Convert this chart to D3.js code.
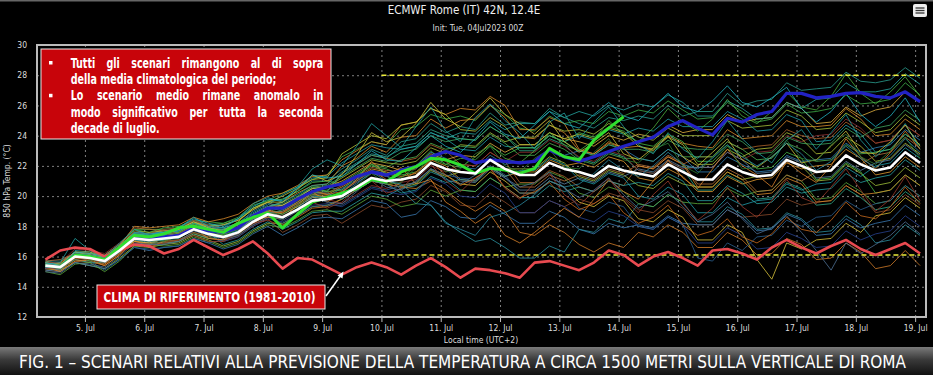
<!DOCTYPE html>
<html>
<head>
<meta charset="utf-8">
<script src="https://cdn.jsdelivr.net/npm/d3@7"></script>
<style>
body { margin: 0; background: #000; }
svg { display: block; }
text { font-family: "Liberation Sans Narrow", "DejaVu Sans Condensed", "Roboto", sans-serif; }
</style>
</head>
<body>
<svg id="chart" width="933" height="375"></svg>
<script>
// ---- data ----
// hours after init (04Jul2023 00Z), one value every 6 h up to +360 h
var hours = d3.range(6, 361, 6);
var tickHours = [22, 46, 70, 94, 118, 142, 166, 190, 214, 238, 262, 286, 310, 334, 358];
var tickLabels = ["5. Jul", "6. Jul", "7. Jul", "8. Jul", "9. Jul", "10. Jul", "11. Jul", "12. Jul",
                  "13. Jul", "14. Jul", "15. Jul", "16. Jul", "17. Jul", "18. Jul", "19. Jul"];
var yTicks = [12, 14, 16, 18, 20, 22, 24, 26, 28, 30];

var ensMean = [15.4,15.3,16.0,15.9, 15.7,16.4,17.2,17.1, 17.2,17.3,17.8,17.5, 17.3,17.6,18.3,18.8,
  18.6,19.1,19.7,19.8, 20.0,20.6,21.2,21.0, 21.1,21.3,22.2,21.8, 21.6,21.5,22.4,21.8,
  21.4,21.4,22.2,21.8, 21.6,21.3,22.0,21.7, 21.5,21.3,22.1,21.6, 21.1,21.1,22.1,21.6,
  21.3,21.4,22.4,22.0, 21.6,21.7,22.7,22.1, 21.7,21.9,22.9,22.2];

var climate = [15.8,16.4,16.6,16.5, 16.0,16.4,16.8,16.7, 16.2,16.5,17.1,16.6, 16.1,16.5,17.0,16.2,
  15.2,15.9,15.8,15.3, 14.8,15.3,15.6,15.3, 14.8,15.4,15.9,15.3, 14.6,15.2,15.1,14.9,
  14.6,15.6,15.7,15.4, 15.1,15.6,16.4,16.1, 15.4,16.0,16.3,15.9, 15.4,16.4,16.5,16.2,
  15.8,16.6,17.1,16.6, 16.2,16.7,17.1,16.5, 16.1,16.5,16.9,16.2];

var control = [15.4,15.3,16.1,16.0, 15.8,16.5,17.3,17.2, 17.3,17.4,17.9,17.7, 17.6,17.9,18.7,19.2,
  19.2,19.8,20.3,20.6, 20.8,21.3,21.6,21.4, 21.7,21.95,22.6,22.95, 22.7,22.2,22.4,22.3,
  22.2,22.3,23.05,22.6, 22.3,22.6,22.95,23.3, 23.6,23.9,24.6,25.0, 24.5,24.05,25.15,24.9,
  25.4,25.6,26.8,26.8, 26.5,26.6,26.8,26.85, 26.6,26.5,26.9,26.25];

// deterministic run, up to +240 h
var hres = [15.4,15.3,16.1,16.0, 15.8,16.6,17.4,17.3, 17.5,17.9,18.0,17.8, 17.6,18.2,18.6,18.9,
  17.9,18.8,19.6,19.9, 20.2,20.5,21.1,20.95, 21.6,21.95,22.5,22.4, 22.06,21.5,21.84,21.73,
  21.5,21.84,23.16,22.6, 22.4,23.7,24.5,25.25];

var members = [
  [15.6,15.5,16.3,16.1, 16.0,16.7,17.6,17.5, 17.7,17.8,18.4,18.0, 18.1,18.4,19.2,19.6, 19.8,20.3,21.0,21.0, 21.8,22.4,23.1,22.7, 23.6,23.8,24.8,24.2, 24.6,24.4,25.5,24.7, 24.9,24.8,25.8,25.2, 24.8,24.5,25.2,25.0, 25.3,25.1,26.0,25.3, 25.6,25.6,26.8,26.0, 26.3,26.4,27.5,27.0, 27.1,27.2,28.2,27.6, 27.5,27.7,28.5,27.8],
  [15.5,15.4,16.1,16.2, 16.1,16.8,17.8,17.6, 17.9,18.0,18.4,18.3, 18.2,18.6,19.4,19.7, 20.2,20.6,21.1,21.4, 22.6,23.1,23.6,23.4, 24.4,24.6,25.4,25.1, 25.3,25.0,26.0,25.4, 24.5,24.3,25.3,24.8, 25.0,24.8,25.6,25.3, 25.7,25.5,26.3,25.7, 25.1,25.2,26.2,25.6, 24.9,25.1,26.1,25.5, 25.6,25.8,26.7,26.1, 26.2,26.4,27.5,26.7],
  [15.2,15.1,15.8,15.7, 15.4,16.1,17.0,16.8, 17.2,17.3,17.9,17.4, 17.8,18.1,18.8,19.3, 19.6,20.2,20.7,20.8, 22.0,22.5,23.3,22.9, 23.9,24.0,25.1,24.5, 25.0,25.1,26.0,25.2, 23.9,23.8,24.7,24.2, 23.0,22.8,23.6,23.2, 23.3,23.0,24.0,23.5, 23.3,23.2,24.4,23.8, 23.9,24.0,25.0,24.6, 24.6,24.7,25.8,25.1, 24.0,24.1,25.1,24.4],
  [15.7,15.5,16.3,16.1, 15.9,16.6,17.4,17.2, 17.0,17.1,17.6,17.3, 17.6,17.9,18.6,19.1, 19.4,19.9,20.5,20.6, 21.2,21.8,22.4,22.2, 22.1,22.3,23.2,22.8, 23.4,23.3,24.2,23.6, 23.9,23.9,24.7,24.3, 24.4,24.1,24.8,24.5, 23.9,23.7,24.5,24.0, 24.0,24.0,25.0,24.5, 24.6,24.7,25.7,25.3, 24.4,24.5,25.5,24.9, 24.2,24.4,25.4,24.7],
  [15.5,15.3,16.4,16.3, 15.7,16.4,17.6,17.5, 17.6,17.7,18.2,18.1, 17.9,18.2,18.9,19.4, 20.1,20.6,21.2,21.3, 22.2,22.8,23.4,23.2, 23.1,23.3,24.2,23.8, 23.1,23.0,23.9,23.3, 23.2,23.2,24.0,23.6, 24.0,23.7,24.4,24.1, 24.5,24.3,25.1,24.6, 24.6,24.6,25.6,25.1, 24.3,24.4,25.4,25.0, 23.6,23.7,24.7,24.1, 22.9,23.1,24.1,23.4],
  [15.1,15.0,15.7,15.6, 15.5,16.2,17.5,17.4, 17.5,17.6,18.1,17.8, 18.1,18.4,19.1,19.6, 19.1,19.6,20.2,20.3, 21.5,22.1,22.7,22.5, 22.3,22.5,23.4,23.0, 22.1,22.0,22.9,22.3, 20.9,20.9,21.7,21.3, 20.6,20.3,21.0,20.7, 22.0,21.8,22.6,22.1, 22.6,22.6,23.6,23.1, 23.3,23.4,24.4,24.0, 23.8,23.9,24.9,24.3, 23.5,23.7,24.7,24.0],
  [15.4,15.3,16.0,16.0, 15.9,16.6,17.4,17.3, 17.4,17.5,18.0,17.7, 17.5,17.8,18.5,19.0, 19.2,19.7,20.3,20.4, 20.9,21.5,22.1,21.9, 22.4,22.6,23.5,23.1, 23.3,23.2,24.1,23.5, 22.7,22.7,23.5,23.1, 22.4,22.1,22.8,22.5, 22.5,22.3,23.1,22.6, 22.6,22.6,23.6,23.1, 22.4,22.5,23.5,23.1, 22.3,22.4,23.4,22.8, 22.9,23.1,24.1,23.4],
  [15.3,15.2,16.0,15.9, 15.8,16.5,17.6,17.5, 17.6,17.7,18.2,17.9, 17.6,17.9,18.6,19.1, 18.8,19.3,19.9,20.0, 20.5,21.1,21.7,21.5, 21.8,22.0,22.9,22.5, 21.9,21.8,22.7,22.1, 22.3,22.3,23.1,22.7, 23.0,22.7,23.4,23.1, 22.5,22.3,23.1,22.6, 21.6,21.6,22.6,22.1, 21.6,21.7,22.7,22.3, 22.4,22.5,23.5,22.9, 23.2,23.4,24.4,23.7],
  [15.6,15.5,16.2,16.1, 15.6,16.3,17.0,16.9, 16.9,17.0,17.5,17.2, 17.1,17.4,18.1,18.6, 18.9,19.4,20.0,20.1, 20.6,21.2,21.8,21.6, 21.3,21.5,22.4,22.0, 21.1,21.0,21.9,21.3, 21.6,21.6,22.4,22.0, 22.2,21.9,22.6,22.3, 21.2,21.0,21.8,21.3, 20.3,20.3,21.3,20.8, 21.1,21.2,22.2,21.8, 22.0,22.1,23.1,22.5, 21.4,21.6,22.6,21.9],
  [15.2,15.1,15.6,15.4, 15.2,15.9,16.7,16.6, 16.8,16.9,17.4,17.1, 16.7,17.0,17.7,18.2, 18.2,18.7,19.3,19.4, 19.8,20.4,21.0,20.8, 20.6,20.8,21.7,21.3, 21.6,21.5,22.4,21.8, 21.8,21.8,22.6,22.2, 21.3,21.0,21.7,21.4, 20.7,20.5,21.3,20.8, 20.6,20.6,21.6,21.1, 21.3,21.4,22.4,22.0, 21.0,21.1,22.1,21.5, 20.7,20.9,21.9,21.2],
  [15.5,15.4,16.1,15.9, 15.9,16.6,17.2,17.0, 17.1,17.2,17.8,17.6, 16.8,17.1,17.8,18.3, 17.8,18.3,18.9,19.0, 19.0,19.6,20.2,20.0, 20.5,20.7,21.6,21.2, 20.4,20.3,21.2,20.6, 19.9,19.9,20.7,20.3, 20.6,20.3,21.0,20.7, 20.9,20.7,21.5,21.0, 19.7,19.7,20.7,20.2, 19.5,19.6,20.6,20.2, 20.4,20.5,21.5,20.9, 21.2,21.4,22.4,21.7],
  [15.3,15.3,15.8,15.6, 15.7,16.4,17.0,16.8, 17.0,17.1,17.6,17.3, 17.0,17.3,18.0,18.5, 17.6,18.1,18.7,18.8, 18.2,18.8,19.4,19.2, 19.6,19.8,20.7,20.3, 19.4,19.3,20.2,19.6, 18.9,18.9,19.7,19.3, 19.8,19.5,20.2,19.9, 19.1,18.9,19.7,19.2, 18.1,18.1,19.1,18.6, 18.7,18.8,19.8,19.4, 19.6,19.7,20.7,20.1, 18.9,19.1,20.1,19.4],
  [15.1,15.0,15.6,15.4, 15.2,15.8,16.6,16.4, 16.6,16.7,17.2,16.9, 16.5,16.8,17.5,18.0, 17.4,17.9,18.5,18.6, 18.5,19.1,19.7,19.5, 18.6,18.8,19.7,19.3, 18.6,18.5,19.4,18.8, 18.2,18.2,19.0,18.6, 17.8,17.5,18.2,17.9, 18.1,17.9,18.7,18.2, 18.1,18.1,19.1,18.6, 17.7,17.8,18.8,18.4, 17.4,17.5,18.5,17.9, 18.2,18.4,19.4,18.7],
  [15.4,15.4,16.2,16.1, 15.9,16.6,17.5,17.5, 17.6,17.7,18.2,17.9, 17.9,18.2,19.0,19.5, 19.4,19.9,20.5,20.6, 20.4,21.0,21.6,21.4, 20.4,19.5,19.4,18.3, 17.6,17.0,17.2,16.6, 15.9,15.9,16.7,16.3, 17.8,17.6,18.5,18.2, 19.5,19.3,20.1,19.6, 18.3,18.3,19.3,18.8, 17.8,17.9,18.9,18.5, 17.6,17.7,18.7,18.1, 16.9,17.1,18.1,17.4],
  [15.3,15.3,16.2,15.9, 15.5,16.3,17.4,17.2, 17.5,17.6,18.1,17.6, 17.2,17.5,18.2,18.7, 18.1,18.6,19.2,19.3, 19.8,20.4,21.0,20.8, 20.6,20.5,21.0,20.4, 19.6,19.0,19.6,19.0, 17.6,17.4,18.1,17.6, 16.8,16.3,16.9,16.6, 17.6,17.3,18.1,17.6, 16.6,16.6,17.6,17.1, 16.1,16.2,17.2,16.8, 15.8,15.9,16.9,16.3, 15.2,15.4,16.4,15.4],
  [15.6,15.4,16.0,16.0, 15.8,16.5,17.2,17.2, 17.3,17.4,17.8,17.6, 17.0,17.3,18.0,18.5, 18.3,18.8,19.4,19.5, 19.3,19.9,20.5,20.3, 20.1,20.3,21.2,20.8, 20.0,19.9,20.8,20.2, 18.9,18.9,19.7,19.3, 18.6,18.3,19.0,18.7, 18.0,17.8,18.6,18.1, 16.9,16.9,17.9,17.4, 16.5,16.6,17.6,17.2, 16.6,16.7,17.7,17.1, 17.5,17.7,18.7,18.0],
  [15.4,15.3,16.1,15.9, 15.6,16.2,17.3,17.2, 17.4,17.5,18.0,17.7, 17.6,17.9,18.6,19.1, 18.8,19.3,19.9,20.0, 20.0,20.6,21.2,21.0, 20.7,20.9,21.8,21.4, 20.8,20.7,21.6,21.0, 20.2,20.2,21.0,20.6, 19.6,19.3,20.0,19.7, 18.5,18.3,19.1,18.6, 17.1,17.1,18.1,17.6, 15.8,14.5,16.9,16.5, 17.1,17.2,18.2,17.6, 18.7,18.9,19.9,19.2],
  [15.5,15.4,16.1,16.0, 16.0,16.7,17.8,17.8, 17.8,17.9,18.4,18.1, 18.2,18.5,19.2,19.7, 19.8,20.3,20.9,21.0, 20.8,21.4,22.0,21.8, 21.4,21.6,22.5,22.1, 22.5,22.4,23.3,22.7, 23.2,23.2,24.0,23.6, 24.2,23.9,24.6,24.3, 23.5,23.3,24.1,23.6, 22.3,22.3,23.3,22.8, 21.8,21.9,22.9,22.5, 21.1,21.2,22.2,21.6, 20.2,20.4,21.4,20.7],
  [15.2,15.2,15.8,15.6, 15.6,16.3,17.1,16.9, 16.9,17.0,17.5,17.2, 17.3,17.6,18.3,18.8, 19.1,19.6,20.2,20.3, 21.5,22.1,22.7,22.5, 23.3,23.5,24.4,24.0, 23.8,23.7,24.6,24.0, 23.0,23.0,23.8,23.4, 22.5,22.2,22.9,22.6, 21.7,21.5,22.3,21.8, 20.4,20.4,21.4,20.9, 19.8,19.9,20.9,20.5, 19.4,19.5,20.5,19.9, 19.1,19.3,20.3,19.6],
  [15.4,15.3,16.0,15.9, 15.7,16.4,17.0,16.9, 17.2,17.3,17.8,17.5, 17.8,18.1,18.8,19.3, 19.4,19.9,20.5,20.6, 21.0,21.6,22.2,22.0, 21.7,21.9,22.8,22.4, 22.7,22.6,23.5,22.9, 23.4,23.4,24.2,23.8, 23.6,23.3,24.0,23.7, 24.1,23.9,24.7,24.2, 24.4,24.4,25.4,24.9, 25.1,25.2,26.2,25.8, 24.8,24.9,25.9,25.3, 25.7,25.9,26.9,26.2],
  [15.6,15.6,16.5,16.4, 16.2,16.9,17.6,17.5, 17.8,17.9,18.4,18.1, 17.7,18.0,18.7,19.2, 18.6,19.1,19.7,19.8, 19.5,20.1,20.7,20.5, 20.9,21.1,22.0,21.6, 22.1,22.0,22.9,22.3, 22.9,22.9,23.7,23.3, 22.6,22.3,23.0,22.7, 21.7,21.5,22.3,21.8, 21.9,21.9,22.9,22.4, 22.9,23.0,24.0,23.6, 24.0,24.1,25.1,24.5, 23.5,23.7,24.7,24.0],
  [15.0,14.8,15.5,15.6, 15.0,15.7,16.7,16.8, 16.7,16.8,17.3,17.0, 16.6,16.9,17.6,18.1, 17.9,18.4,19.0,19.1, 18.8,19.4,20.0,19.8, 19.3,19.5,20.4,20.0, 20.4,20.3,21.2,20.6, 20.8,20.8,21.6,21.2, 20.2,19.9,20.6,20.3, 19.5,19.3,20.1,19.6, 19.5,19.5,20.5,20.0, 20.3,20.4,21.4,21.0, 19.8,19.9,20.9,20.3, 19.5,19.7,20.7,20.0],
  [15.7,15.7,16.2,15.9, 16.1,16.8,17.4,17.1, 17.6,17.7,18.2,17.9, 17.4,17.7,18.4,18.9, 19.0,19.5,20.1,20.2, 19.8,20.4,21.0,20.8, 20.2,20.4,21.3,20.9, 21.1,21.0,21.9,21.3, 21.7,21.7,22.5,22.1, 21.1,20.8,21.5,21.2, 20.0,19.8,20.6,20.1, 18.9,18.9,19.9,19.4, 19.7,19.8,20.8,20.4, 20.8,20.9,21.9,21.3, 22.0,22.2,23.2,22.5],
  [15.4,15.6,16.3,16.2, 16.0,16.7,18.0,17.9, 18.0,18.1,18.6,18.3, 18.5,18.8,19.5,20.0, 20.2,20.7,21.3,21.4, 22.4,23.0,23.6,23.4, 24.7,24.9,25.8,25.4, 25.8,25.7,26.6,26.0, 24.4,24.4,25.2,24.8, 23.1,22.8,23.5,23.2, 22.0,21.8,22.6,22.1, 20.6,20.6,21.6,21.1, 20.1,20.2,21.2,20.8, 19.6,19.7,20.7,20.1, 20.2,20.4,21.4,20.7],
  [15.3,15.1,16.0,16.1, 15.7,16.4,17.4,17.3, 17.3,17.4,17.9,17.6, 17.5,17.8,18.5,19.0, 18.6,19.1,19.7,19.8, 20.3,20.9,21.5,21.3, 21.1,21.3,22.2,21.8, 21.0,20.9,21.8,21.2, 20.4,20.4,21.2,20.8, 21.2,20.9,21.6,21.3, 21.8,21.6,22.4,21.9, 21.9,21.9,22.9,22.4, 21.5,21.6,22.6,22.2, 21.2,21.3,22.3,21.7, 22.2,22.4,23.4,22.7],
  [15.6,15.4,16.3,16.3, 16.0,16.6,17.7,17.6, 17.7,17.8,18.3,18.0, 18.1,18.4,19.1,19.6, 20.0,20.5,21.1,21.2, 22.8,23.4,24.0,23.8, 24.7,24.9,25.8,25.4, 24.4,24.3,25.2,24.6, 23.4,23.4,24.2,23.8, 24.1,23.8,24.5,24.2, 23.3,23.1,23.9,23.4, 22.1,22.1,23.1,22.6, 23.1,23.2,24.2,23.8, 22.8,22.9,23.9,23.3, 22.3,22.5,23.5,22.8],
  [15.5,15.4,16.2,16.1, 15.9,16.7,17.5,17.4, 17.5,17.6,18.1,17.8, 17.8,18.1,18.8,19.3, 19.5,20.0,20.6,20.7, 21.3,21.9,22.5,22.3, 22.9,23.1,24.0,23.6, 23.8,23.7,24.6,24.0, 23.2,23.2,24.0,23.6, 23.0,22.7,23.4,23.1, 23.1,22.9,23.7,23.2, 23.1,23.1,24.1,23.6, 22.8,22.9,23.9,23.5, 23.4,23.5,24.5,23.9, 24.5,24.7,25.7,25.0],
  [15.2,15.3,16.0,15.7, 15.1,15.8,16.6,16.5, 16.6,16.7,17.2,16.9, 17.1,17.4,18.1,18.6, 18.2,18.7,19.3,19.4, 19.4,20.0,20.6,20.4, 20.7,20.9,21.8,21.4, 21.2,21.1,22.0,21.4, 20.2,20.2,21.0,20.6, 19.2,18.9,19.6,19.3, 18.0,17.8,18.6,18.1, 15.9,15.7,16.9,16.4, 17.3,17.4,18.4,18.0, 18.6,18.7,19.7,19.1, 19.5,19.7,20.7,20.0],
  [15.7,15.8,16.2,15.9, 16.1,16.8,17.9,17.8, 17.7,17.8,18.3,18.0, 17.3,17.6,18.3,18.8, 19.0,19.5,20.1,20.2, 20.7,21.3,21.9,21.7, 21.6,21.8,22.7,22.3, 21.6,21.5,22.4,21.8, 20.6,20.6,21.4,21.0, 21.4,21.1,21.8,21.5, 22.1,21.9,22.7,22.2, 20.8,20.8,21.8,21.3, 20.3,20.4,21.4,21.0, 21.6,21.7,22.7,22.1, 22.7,22.9,23.9,23.2],
  [15.3,15.2,15.9,15.9, 15.8,16.5,17.6,17.5, 17.6,17.7,18.2,17.9, 17.8,18.1,18.8,19.3, 19.6,20.1,20.7,20.8, 21.6,22.2,22.8,22.6, 23.1,23.3,24.2,23.8, 24.2,24.1,25.0,24.4, 24.8,24.8,25.6,25.2, 25.6,25.3,26.0,25.7, 26.1,25.9,26.7,26.2, 25.3,25.3,26.3,25.8, 25.1,25.2,26.2,25.8, 26.4,26.5,27.5,26.9, 26.9,27.1,28.1,27.4],
  [15.5,15.6,17.2,16.4, 15.9,16.9,17.8,17.4, 17.4,17.9,18.6,18.0, 17.9,18.5,19.5,19.9, 19.6,20.6,21.8,22.4, 22.0,23.3,24.8,24.0, 23.2,24.6,25.9,24.3, 23.6,25.2,26.1,25.0, 24.2,23.1,24.9,25.5, 23.8,24.9,25.9,24.6, 23.4,22.8,24.2,23.1, 22.5,23.6,25.0,23.8, 22.9,22.2,23.7,24.4, 23.1,24.2,25.4,23.7, 22.6,23.5,24.8,23.1],
  [15.3,15.0,15.7,15.8, 15.4,16.1,17.1,16.6, 17.0,17.4,17.9,17.2, 17.1,17.7,18.5,18.6, 18.5,19.4,20.3,19.6, 20.2,21.1,22.3,21.4, 21.9,20.8,21.1,19.6, 19.0,18.2,18.8,17.4, 16.9,17.6,18.4,19.2, 18.6,19.8,21.1,20.3, 19.8,21.0,22.4,21.2, 20.5,21.8,23.1,22.0, 21.4,20.6,22.3,21.5, 20.9,22.0,23.8,22.6, 21.8,22.9,24.3,23.1],
  [15.4,15.5,16.1,15.7, 15.8,16.5,17.5,17.0, 17.1,17.6,18.2,17.8, 17.4,18.0,18.8,19.1, 19.3,19.9,20.6,20.3, 20.4,21.3,22.1,21.5, 21.2,22.0,23.0,22.1, 21.9,22.6,23.4,22.5, 22.2,23.0,24.2,23.4, 23.0,23.7,25.0,24.1, 23.6,24.5,25.8,24.9, 24.3,25.1,26.4,25.3, 24.8,25.6,26.9,25.9, 25.7,26.6,28.1,26.8, 26.1,26.9,27.9,26.6],
  [15.2,15.2,15.9,15.8, 15.6,16.2,16.9,16.7, 16.9,17.1,17.4,17.0, 17.0,17.6,18.2,18.4, 18.0,18.9,19.6,19.2, 19.6,20.5,21.0,20.2, 20.5,21.4,22.1,21.0, 20.3,21.2,21.9,20.5, 19.8,20.9,21.5,20.1, 19.4,20.3,21.2,19.8, 18.9,20.1,21.0,19.5, 18.4,19.2,20.6,19.3, 18.6,19.7,21.1,19.9, 19.5,20.6,21.8,20.4, 19.0,19.8,21.3,19.7],
  [15.0,14.9,15.6,15.5, 15.3,16.0,16.9,16.8, 16.8,17.0,17.7,17.4, 17.2,17.5,18.4,18.7, 18.4,19.0,19.9,19.6, 19.5,20.3,21.2,20.6, 20.4,21.0,21.8,21.1, 20.8,21.4,22.0,21.2, 20.6,20.9,21.6,20.5, 19.9,20.4,21.2,20.1, 19.2,19.7,20.3,19.3, 18.3,18.8,19.6,18.5, 17.5,17.9,18.7,17.6, 16.4,15.1,16.9,16.2, 16.8,17.4,18.3,17.5],
  [15.5,15.4,16.0,16.1, 15.9,16.6,17.3,17.3, 17.5,17.8,18.3,17.9, 17.7,18.3,19.2,19.6, 19.6,20.4,21.4,21.0, 21.4,22.7,24.2,23.6, 23.9,24.8,26.2,25.1, 24.6,25.5,26.5,25.4, 24.8,24.1,25.0,23.6, 22.9,23.5,24.2,22.8, 22.4,23.2,24.0,22.6, 22.0,22.9,23.8,22.4, 21.9,22.6,23.5,22.2, 22.4,23.3,24.3,22.9, 22.8,23.6,24.7,23.3],
  [15.3,15.4,16.2,15.8, 15.7,16.3,17.2,17.1, 17.0,17.4,17.9,17.6, 17.4,17.8,18.6,18.9, 18.8,19.4,20.1,19.8, 20.0,20.7,21.5,20.8, 20.9,21.9,22.7,21.6, 21.8,22.8,23.3,22.0, 21.6,22.5,23.1,21.9, 21.8,22.9,23.8,22.4, 22.2,23.1,23.5,22.0, 21.5,22.6,23.4,21.8, 21.9,22.8,23.7,22.5, 22.3,23.4,24.1,22.6, 22.1,23.0,23.9,22.5],
  [15.6,15.4,16.3,16.2, 16.0,16.6,17.5,17.4, 17.6,17.9,18.5,18.2, 18.0,18.5,19.3,19.8, 19.7,20.5,21.4,21.2, 21.3,22.1,23.0,22.4, 22.3,23.2,24.0,23.3, 22.9,23.8,24.9,24.1, 23.8,24.7,25.6,24.8, 24.5,25.4,26.2,25.3, 25.0,25.9,26.8,25.9, 25.6,26.3,27.3,26.2, 25.9,26.5,27.2,25.8, 24.9,25.6,26.8,25.4, 24.6,25.3,26.5,24.9],
  [15.4,15.2,15.9,15.9, 15.6,16.4,17.2,17.0, 17.2,17.5,18.0,17.7, 17.5,17.9,18.7,19.0, 18.9,19.6,20.4,20.1, 20.3,21.0,21.7,21.1, 21.0,21.6,22.3,21.4, 20.7,21.2,21.8,20.6, 19.9,20.3,20.9,19.8, 19.1,19.5,20.1,18.9, 18.2,18.6,19.4,18.1, 17.4,17.7,18.5,17.3, 16.9,17.5,18.6,17.8, 17.6,18.4,19.6,18.7, 18.5,19.3,20.6,19.5],
  [15.3,15.3,16.0,15.9, 15.6,16.3,17.1,17.0, 17.1,17.4,17.9,17.5, 17.3,17.7,18.5,18.8, 18.5,19.2,20.0,19.9, 20.1,20.8,21.6,21.0, 20.8,20.0,19.4,18.2, 17.8,17.4,18.6,18.9, 19.4,20.1,21.0,20.6, 20.8,21.5,22.4,21.7, 21.3,22.0,22.9,22.1, 21.8,22.5,23.4,22.6, 22.0,22.6,23.5,22.8, 21.7,22.3,23.3,22.5, 21.9,22.7,23.8,22.9]
];
var memberColors = ["#2a9d8f", "#3fae49", "#d98c2b", "#a7c23a", "#1f9ea8", "#b0652a", "#4cb050", "#2f7fb5",
  "#e09a30", "#9fbf3a", "#28a0a0", "#8b4a2b", "#3a78b0", "#2b8f9e", "#d07a28", "#27418f",
  "#d6c13a", "#45b545", "#2eaa8a", "#e0b040", "#8e2f2f", "#5aa83a", "#1f9aa8", "#d88a2a",
  "#5a7fa0", "#b8c438", "#40a860", "#2a5f8f", "#b5703a", "#25a5a0",
  "#1f9e9e", "#d9822b", "#4caf3f", "#9a3b2a", "#4d6f94", "#c8c03a", "#2e7d32", "#22b0c0", "#c86a1e", "#2a8aa0"];

// reference band (dashed yellow lines) from 10 Jul onwards
var bandLevels = [28, 16.1];
var bandStart = 142;

var boxLines = [
  { bullet: true,  text: "Tutti gli scenari rimangono al di sopra", justify: true },
  { bullet: false, text: "della media climatologica del periodo;", justify: false },
  { bullet: true,  text: "Lo scenario medio rimane anomalo in", justify: true },
  { bullet: false, text: "modo significativo per tutta la seconda", justify: true },
  { bullet: false, text: "decade di luglio.", justify: false }
];

// ---- chart ----
var svg = d3.select("#chart");
var pLeft = 37, pRight = 926, pTop = 45, pBottom = 317;
var narrow = "'Liberation Sans Narrow','DejaVu Sans Condensed',Roboto,sans-serif";

var x = d3.scaleLinear().domain([2.6, 362.4]).range([pLeft, pRight]);
var y = d3.scaleLinear().domain([12, 30]).range([pBottom, pTop]);

svg.append("rect").attr("width", 933).attr("height", 375).attr("fill", "#000");
svg.append("rect").attr("width", 933).attr("height", 1.5).attr("fill", "#666");

var defs = svg.append("defs");
defs.append("clipPath").attr("id", "plot")
  .append("rect").attr("x", pLeft).attr("y", pTop).attr("width", pRight - pLeft).attr("height", pBottom - pTop);

// titles
svg.append("text").attr("x", 464).attr("y", 14).attr("text-anchor", "middle")
  .attr("fill", "#eee").style("font-size", "11.5px").text("ECMWF Rome (IT) 42N, 12.4E");
svg.append("text").attr("x", 478).attr("y", 31).attr("text-anchor", "middle")
  .attr("fill", "#ddd").style("font-size", "8.5px").text("Init: Tue, 04Jul2023 00Z");

// menu icon
var menu = svg.append("g");
menu.append("rect").attr("x", 913).attr("y", 4).attr("width", 14).attr("height", 13).attr("rx", 2).attr("fill", "#eee");
[8, 10.5, 13].forEach(function(v) {
  menu.append("line").attr("x1", 915.5).attr("x2", 924.5).attr("y1", v).attr("y2", v)
    .attr("stroke", "#333").attr("stroke-width", 1.3);
});

// grid
var gxGrid = svg.append("g").attr("transform", "translate(0," + pBottom + ")")
  .call(d3.axisBottom(x).tickValues(tickHours).tickSize(-(pBottom - pTop)).tickFormat(""));
gxGrid.select(".domain").remove();
gxGrid.selectAll("line").attr("stroke", "#aaa").attr("stroke-dasharray", "2,3").attr("stroke-opacity", 0.75);

var gyGrid = svg.append("g").attr("transform", "translate(" + pLeft + ",0)")
  .call(d3.axisLeft(y).tickValues(yTicks).tickSize(-(pRight - pLeft)).tickFormat(""));
gyGrid.select(".domain").remove();
gyGrid.selectAll("line").attr("stroke", "#aaa").attr("stroke-dasharray", "2,3").attr("stroke-opacity", 0.75);

// axes
var gx = svg.append("g").attr("transform", "translate(0," + pBottom + ")")
  .call(d3.axisBottom(x).tickValues(tickHours).tickSize(5).tickPadding(3)
    .tickFormat(function(d, i) { return tickLabels[i]; }));
gx.select(".domain").remove();
gx.selectAll("line").attr("stroke", "#bbb");
gx.selectAll("text").attr("fill", "#ddd").style("font-size", "8.5px").style("font-family", narrow);

var gy = svg.append("g").attr("transform", "translate(" + pLeft + ",0)")
  .call(d3.axisLeft(y).tickValues(yTicks).tickSize(0).tickPadding(10));
gy.select(".domain").remove();
gy.selectAll("text").attr("fill", "#ddd").style("font-size", "8.5px").style("font-family", narrow);

svg.append("text").attr("transform", "translate(10," + ((pTop + pBottom) / 2) + ") rotate(-90)")
  .attr("text-anchor", "middle").attr("fill", "#ddd").style("font-size", "8.5px").text("850 hPa Temp. (°C)");
svg.append("text").attr("x", 481).attr("y", 343).attr("text-anchor", "middle")
  .attr("fill", "#ddd").style("font-size", "8.5px").text("Local time (UTC+2)");

// lines
var line = d3.line().x(function(d, i) { return x(hours[i]); }).y(function(d) { return y(d); });
var plot = svg.append("g").attr("clip-path", "url(#plot)");

plot.selectAll(".member").data(members).enter().append("path")
  .attr("class", "member")
  .attr("d", line)
  .attr("fill", "none")
  .attr("stroke", function(d, i) { return memberColors[i % memberColors.length]; })
  .attr("stroke-width", 1)
  .attr("stroke-opacity", 0.8);

plot.selectAll(".band").data(bandLevels).enter().append("line")
  .attr("class", "band")
  .attr("x1", x(bandStart)).attr("x2", x(hours[hours.length - 1]))
  .attr("y1", function(d) { return y(d); }).attr("y2", function(d) { return y(d); })
  .attr("stroke", "#ecec3a").attr("stroke-width", 1.6).attr("stroke-dasharray", "5,3");

plot.append("path").attr("d", line(climate)).attr("fill", "none")
  .attr("stroke", "#e84a50").attr("stroke-width", 2.6).attr("stroke-linejoin", "round");
plot.append("path").attr("d", line(control)).attr("fill", "none")
  .attr("stroke", "#2222c4").attr("stroke-width", 3.2).attr("stroke-linejoin", "round");
plot.append("path").attr("d", line(hres)).attr("fill", "none")
  .attr("stroke", "#2fe02f").attr("stroke-width", 3).attr("stroke-linejoin", "round");
plot.append("path").attr("d", line(ensMean)).attr("fill", "none")
  .attr("stroke", "#ffffff").attr("stroke-width", 2.6).attr("stroke-linejoin", "round");

// frame
svg.append("rect").attr("x", pLeft).attr("y", pTop).attr("width", pRight - pLeft).attr("height", pBottom - pTop)
  .attr("fill", "none").attr("stroke", "#bbb").attr("stroke-width", 2);

// annotation box
var box = svg.append("g");
box.append("rect").attr("x", 41).attr("y", 49).attr("width", 290).attr("height", 90)
  .attr("fill", "#c8040a").attr("stroke", "#e8e8e8").attr("stroke-width", 1);

// a taller bold font, squeezed sideways so the unjustified line keeps the picture's width
var fs = 13.5;
var probe = box.append("text").style("font-family", narrow).style("font-weight", "bold")
  .style("font-size", fs + "px").text(boxLines[1].text);
var squeeze = 206 / probe.node().getComputedTextLength();
probe.remove();

var tx0 = 70.7, tx1 = 323.3;
boxLines.forEach(function(l, i) {
  var yb = 67.5 + i * 16.4;
  if (l.bullet) {
    box.append("rect").attr("x", 49).attr("y", yb - 6.5).attr("width", 3.5).attr("height", 3.5).attr("fill", "#fff");
  }
  var t = box.append("text")
    .attr("transform", "translate(" + tx0 + "," + yb + ") scale(" + squeeze + ",1)")
    .attr("fill", "#fff")
    .style("font-family", narrow).style("font-weight", "bold").style("font-size", fs + "px")
    .text(l.text);
  if (l.justify) {
    // justified: stretch the spaces between words up to the right edge
    var natural = t.node().getComputedTextLength();
    var nGaps = l.text.split(" ").length - 1;
    var extra = ((tx1 - tx0) / squeeze - natural) / nGaps;
    t.style("word-spacing", Math.max(extra, 0) + "px");
  }
});

// climate label and arrow
var lab = svg.append("g");
lab.append("rect").attr("x", 97).attr("y", 285).attr("width", 228).attr("height", 24)
  .attr("fill", "#c8040a").attr("stroke", "#e8e8e8").attr("stroke-width", 1);
lab.append("text").attr("x", 103.5).attr("y", 302).attr("fill", "#fff")
  .style("font-family", narrow).style("font-weight", "bold").style("font-size", "14px")
  .attr("textLength", 212).attr("lengthAdjust", "spacingAndGlyphs")
  .text("CLIMA DI RIFERIMENTO (1981-2010)");
lab.append("line").attr("x1", 326).attr("y1", 296).attr("x2", 341).attr("y2", 275)
  .attr("stroke", "#fff").attr("stroke-width", 1.5);
lab.append("path").attr("d", "M343.5,271.5 L337.5,275.5 L342.5,278.5 Z").attr("fill", "#fff");

// bottom banner
var grad = defs.append("linearGradient").attr("id", "banner")
  .attr("x1", 0).attr("y1", 0).attr("x2", 0).attr("y2", 1);
grad.append("stop").attr("offset", "0%").attr("stop-color", "#7a7a7a");
grad.append("stop").attr("offset", "45%").attr("stop-color", "#3a3a3a");
grad.append("stop").attr("offset", "100%").attr("stop-color", "#111");
svg.append("rect").attr("x", 0).attr("y", 347).attr("width", 933).attr("height", 28).attr("fill", "url(#banner)");
svg.append("text").attr("x", 19).attr("y", 368).attr("fill", "#fff")
  .style("font-size", "17.5px")
  .attr("textLength", 887).attr("lengthAdjust", "spacingAndGlyphs")
  .text("FIG. 1 – SCENARI RELATIVI ALLA PREVISIONE DELLA TEMPERATURA A CIRCA 1500 METRI SULLA VERTICALE DI ROMA");
</script>
</body>
</html>
